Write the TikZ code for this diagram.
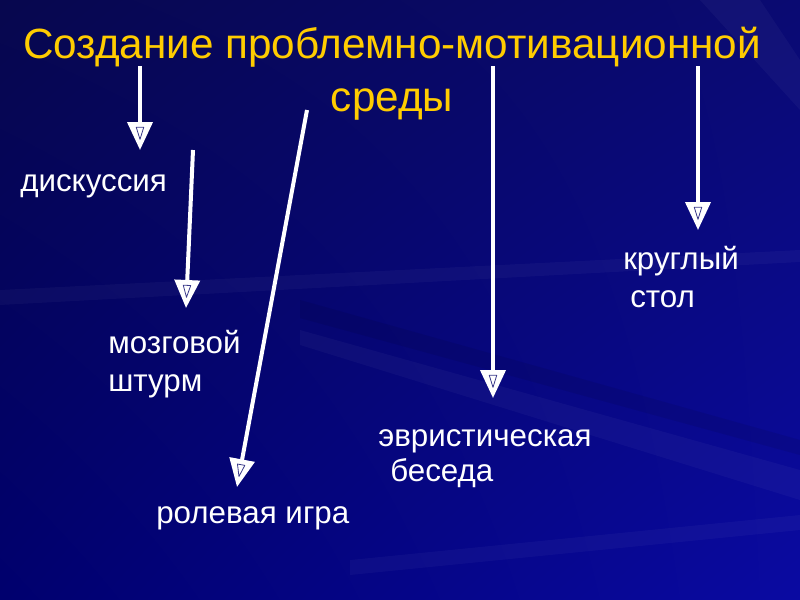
\documentclass[tikz,border=0pt]{standalone}
\usepackage{fontspec}
\setmainfont{Liberation Sans}
\usetikzlibrary{arrows.meta,shadings,decorations.markings}
\definecolor{titlecol}{HTML}{FFCC00}
\definecolor{bgTL}{HTML}{07074E}
\definecolor{bgTR}{HTML}{0A0A72}
\definecolor{bgBL}{HTML}{00006E}
\definecolor{bgBR}{HTML}{0A0AA2}
\definecolor{innertri}{HTML}{3A3A8A}
\begin{document}
\begin{tikzpicture}[x=0.75pt,y=-0.75pt,
  arr/.style={draw=white, line width=3pt, -{Triangle[width=18.75pt,length=21pt]},
    postaction={decorate, decoration={markings,
      mark=at position 1 with {\draw[innertri, line width=0.6pt, line join=round]
        (-17pt,-2.8pt) -- (-17pt,2.8pt) -- (-8pt,0pt) -- cycle;}}}},
  lbl/.style={text=white, font=\fontsize{23.5}{28}\selectfont, inner sep=0pt, anchor=base west},
  ttl/.style={text=titlecol, font=\fontsize{31.7}{40}\selectfont, inner sep=0pt, align=center},
  streak/.style={fill=white, opacity=0.035},
  dstreak/.style={fill=black, opacity=0.08}]
\useasboundingbox (0,0) rectangle (800,600);
\shade[upper left=bgTL, upper right=bgTR, lower left=bgBL, lower right=bgBR] (0,0) rectangle (800,600);
% background streaks
\fill[streak] (300,330) -- (800,470) -- (800,500) -- (300,345) -- cycle;
\fill[streak] (350,560) -- (800,515) -- (800,530) -- (350,575) -- cycle;
\fill[streak] (700,0) -- (760,0) -- (800,60) -- (800,110) -- cycle;
\fill[streak] (0,290) -- (800,250) -- (800,262) -- (0,305) -- cycle;
\fill[dstreak] (300,300) -- (800,440) -- (800,455) -- (300,318) -- cycle;
% title
\node[ttl] (title) at (392,74) {Создание проблемно-мотивационной\\среды};
% labels
\node[lbl] (disk) at (20,191) {дискуссия};
\node[lbl] (mozg1) at (108,353) {мозговой};
\node[lbl] (mozg2) at (108,391) {штурм};
\node[lbl] (rol) at (156,523) {ролевая игра};
\node[lbl] (evr1) at (378,446) {эвристическая};
\node[lbl] (evr2) at (390,481) {беседа};
\node[lbl] (kr1) at (623,269) {круглый};
\node[lbl] (kr2) at (630,307) {стол};
% arrow coordinates
\coordinate (s1) at (140,66);  \coordinate (e1) at (140,150);
\coordinate (s2) at (193,150); \coordinate (e2) at (186,308);
\coordinate (s3) at (307,110); \coordinate (e3) at (237,487);
\coordinate (s4) at (493,66);  \coordinate (e4) at (493,398);
\coordinate (s5) at (698,66);  \coordinate (e5) at (698,230);
\draw[arr] (s1) -- (e1);
\draw[arr] (s2) -- (e2);
\draw[arr] (s3) -- (e3);
\draw[arr] (s4) -- (e4);
\draw[arr] (s5) -- (e5);
\end{tikzpicture}
\end{document}
